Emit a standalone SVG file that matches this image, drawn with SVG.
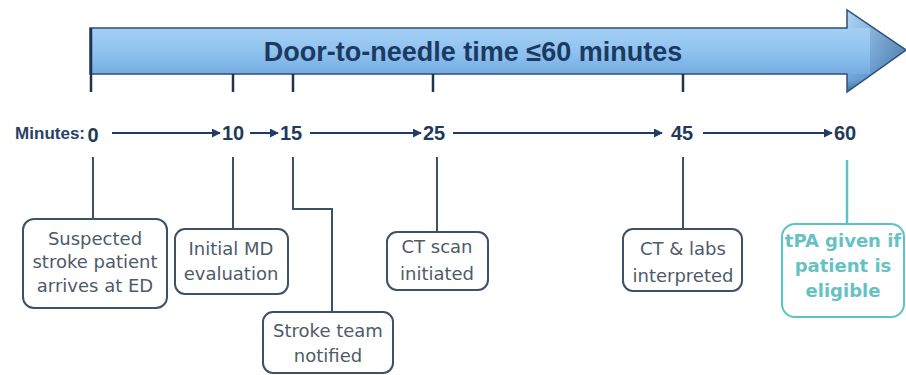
<svg xmlns="http://www.w3.org/2000/svg" width="906" height="375" viewBox="0 0 906 375">
  <style>
    .tick { stroke: #1e3350; stroke-width: 2.5; fill: none; }
    .flow { stroke: #1f3d66; stroke-width: 2; fill: none; marker-end: url(#ah); }
    .num { font-family: "Liberation Sans", Arial, sans-serif; font-weight: bold; font-size: 20px; fill: #1e3a5c; text-anchor: middle; }
    .lbl { font-family: "Liberation Sans", Arial, sans-serif; font-weight: bold; font-size: 17px; fill: #2a4262; }
    .conn { stroke: #3d5266; stroke-width: 2; fill: none; }
    .box { fill: #ffffff; stroke: #3d5266; stroke-width: 2; }
    .btxt { font-family: "DejaVu Sans", Verdana, sans-serif; font-size: 18px; fill: #4d5b69; text-anchor: middle; }
    .tbox { fill: #ffffff; stroke: #5cc4c4; stroke-width: 2; }
    .ttxt { font-family: "DejaVu Sans", Verdana, sans-serif; font-size: 18px; font-weight: bold; fill: #66c2c2; text-anchor: middle; }
    .tconn { stroke: #5cc4c4; stroke-width: 2.5; fill: none; }
    .title { font-family: "Liberation Sans", Arial, sans-serif; font-weight: bold; font-size: 27px; fill: #1b3a63; text-anchor: middle; }
  </style>
  <defs>
    <linearGradient id="bodyGrad" x1="0" y1="0" x2="0" y2="1">
      <stop offset="0" stop-color="#b4d8f6"/>
      <stop offset="0.5" stop-color="#90c3f0"/>
      <stop offset="0.85" stop-color="#6fa6dc"/>
      <stop offset="1" stop-color="#3f6fa3"/>
    </linearGradient>
    <linearGradient id="headGrad" x1="0" y1="0" x2="1" y2="0">
      <stop offset="0" stop-color="#2d5582" stop-opacity="0"/>
      <stop offset="1" stop-color="#2d5582" stop-opacity="0.55"/>
    </linearGradient>
    <marker id="ah" viewBox="0 0 10 10" refX="9" refY="5" markerWidth="4.5" markerHeight="4.5" orient="auto" markerUnits="strokeWidth">
      <path d="M0,0 L10,5 L0,10 Z" fill="#1f3d66"/>
    </marker>
  </defs>

  <g id="timeline-arrow">
    <path d="M90,28 H847 V10 L906,50 L847,92 V74 H90 Z" fill="url(#bodyGrad)" stroke="#2d4f78" stroke-width="1.5"/>
    <path d="M847,10 L906,50 L847,92 V74 H870 V28 H847 Z" fill="url(#headGrad)"/>
    <text class="title" x="473" y="61">Door-to-needle time ≤60 minutes</text>
    <line class="tick" x1="91" y1="28" x2="91" y2="92"/>
    <line class="tick" x1="233" y1="74" x2="233" y2="92"/>
    <line class="tick" x1="293" y1="74" x2="293" y2="92"/>
    <line class="tick" x1="433" y1="74" x2="433" y2="92"/>
    <line class="tick" x1="683" y1="74" x2="683" y2="92"/>
  </g>

  <g id="minutes-row">
    <text class="lbl" x="85" y="139" text-anchor="end">Minutes:</text>
    <text class="num" x="93" y="142">0</text>
    <text class="num" x="233" y="140">10</text>
    <text class="num" x="291" y="140">15</text>
    <text class="num" x="434" y="140">25</text>
    <text class="num" x="682" y="140">45</text>
    <text class="num" x="845" y="140">60</text>
  </g>

  <g id="connectors">
    <line class="flow" x1="112" y1="133" x2="220" y2="133"/>
    <line class="flow" x1="250" y1="133" x2="278" y2="133"/>
    <line class="flow" x1="310" y1="133" x2="421" y2="133"/>
    <line class="flow" x1="453" y1="133" x2="662" y2="133"/>
    <line class="flow" x1="703" y1="133" x2="832" y2="133"/>
    <line class="conn" x1="93" y1="157" x2="93" y2="219"/>
    <line class="conn" x1="233" y1="157" x2="233" y2="229"/>
    <polyline class="conn" points="293,157 293,209 332,209 332,312"/>
    <line class="conn" x1="437" y1="157" x2="437" y2="232"/>
    <line class="conn" x1="683" y1="157" x2="683" y2="229"/>
    <line class="tconn" x1="847" y1="160" x2="847" y2="224"/>
  </g>

  <g id="node-arrives">
    <rect class="box" x="23" y="219" width="144" height="89" rx="11"/>
    <text class="btxt" x="95" y="245">Suspected</text>
    <text class="btxt" x="95" y="268">stroke patient</text>
    <text class="btxt" x="95" y="292">arrives at ED</text>
  </g>

  <g id="node-md">
    <rect class="box" x="175" y="229" width="113" height="65" rx="10"/>
    <text class="btxt" x="231" y="255">Initial MD</text>
    <text class="btxt" x="231" y="280">evaluation</text>
  </g>

  <g id="node-stroke-team">
    <rect class="box" x="263" y="312" width="130" height="61" rx="10"/>
    <text class="btxt" x="328" y="337">Stroke team</text>
    <text class="btxt" x="328" y="362">notified</text>
  </g>

  <g id="node-ct-scan">
    <rect class="box" x="387" y="232" width="101" height="58" rx="10"/>
    <text class="btxt" x="437" y="253">CT scan</text>
    <text class="btxt" x="437" y="280">initiated</text>
  </g>

  <g id="node-ct-labs">
    <rect class="box" x="623" y="229" width="119" height="62" rx="10"/>
    <text class="btxt" x="683" y="255">CT &amp; labs</text>
    <text class="btxt" x="683" y="282">interpreted</text>
  </g>

  <g id="node-tpa">
    <rect class="tbox" x="782" y="224" width="122" height="93" rx="13"/>
    <text class="ttxt" x="843" y="247">tPA given if</text>
    <text class="ttxt" x="843" y="272">patient is</text>
    <text class="ttxt" x="843" y="297">eligible</text>
  </g>
</svg>
